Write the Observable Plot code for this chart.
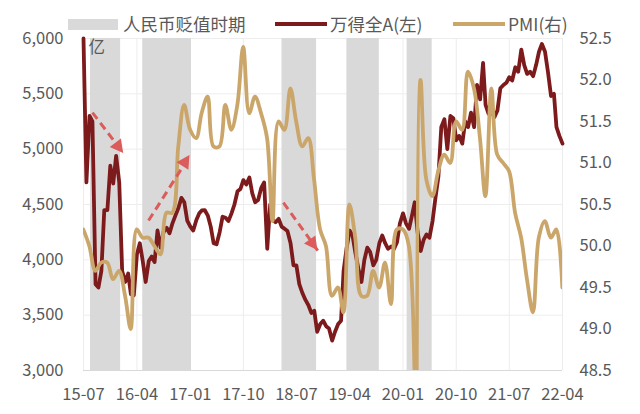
<!DOCTYPE html>
<html><head><meta charset="utf-8">
<script src="https://cdn.jsdelivr.net/npm/d3@7"></script>
<script src="https://cdn.jsdelivr.net/npm/@observablehq/plot@0.6"></script>
<style>
body{margin:0;background:#fff;font-family:"Noto Sans CJK SC","Noto Sans",sans-serif;}
#wrap{position:relative;width:640px;height:414px;overflow:hidden;background:#fff;}
.lg{position:absolute;color:#595959;font-size:17.5px;line-height:24px;top:12px;white-space:nowrap;}
.sw{position:absolute;}
#chart{position:absolute;left:0;top:30px;}
</style></head><body>
<div id="wrap">
  <div class="sw" style="left:68px;top:19px;width:50px;height:11px;background:#d9d9d9"></div>
  <div class="lg" style="left:123px">人民币贬值时期</div>
  <div class="sw" style="left:275px;top:22px;width:52px;height:4px;background:#7d1a1c"></div>
  <div class="lg" style="left:330px">万得全A(左)</div>
  <div class="sw" style="left:453px;top:22px;width:52px;height:4px;background:#cba66a"></div>
  <div class="lg" style="left:508px">PMI(右)</div>
  <div id="chart"></div>
</div>
<script>
// ---- data ----
const windStart = "2015-07"; // half-monthly observations from this month
const windValues = [
  6000,4700,5300,5250,3780,3750,3900,4450,4450,4850,
  4690,4940,4700,3900,3800,3876,3690,3680,4050,4150,
  3990,3800,3990,4030,3980,4265,4110,4250,4290,4240,
  4330,4400,4470,4560,4520,4355,4300,4265,4360,4420,
  4446,4450,4400,4300,4150,4140,4250,4390,4380,4350,
  4420,4500,4620,4640,4720,4680,4744,4600,4520,4540,
  4650,4700,4100,4500,4360,4340,4370,4300,4280,4260,
  4150,3950,3950,3780,3700,3640,3590,3520,3540,3350,
  3420,3450,3400,3380,3270,3350,3420,3450,3900,4100,
  4265,4220,4060,3920,3800,4000,4110,4070,3950,4000,
  4150,4220,4150,4100,4120,4100,4160,4330,4420,4330,
  4280,4400,4520,4250,4080,4180,4230,4200,4350,4560,
  4750,5200,5270,5000,5300,5280,5080,5120,5050,5250,
  5200,5330,5200,5580,5450,5780,5400,5320,5330,5290,
  5350,5550,5580,5600,5650,5620,5740,5700,5900,5760,
  5680,5700,5660,5760,5880,5950,5880,5700,5480,5500,
  5200,5120,5050
];
const pmiStart = "2015-06"; // monthly, plotted at month end
const pmiValues = [
  50.2,50.0,49.7,49.8,49.8,49.6,49.7,49.4,49.0,50.2,
  50.1,50.1,50.0,49.9,50.4,50.4,51.2,51.7,51.4,51.3,
  51.6,51.8,51.2,51.2,51.7,51.4,51.7,52.4,51.6,51.8,
  51.6,51.3,50.3,51.5,51.4,51.9,51.5,51.2,51.3,50.8,
  50.2,50.0,49.4,49.5,49.2,50.5,50.1,49.4,49.4,49.7,
  49.5,49.8,49.3,50.2,50.2,50.0,35.7,52.0,50.8,50.6,
  50.9,51.1,51.0,51.5,51.4,52.1,51.9,51.3,50.6,51.9,
  51.1,51.0,50.9,50.4,50.1,49.6,49.2,50.1,50.3,50.1,
  50.2,49.5
];
const bandStarts = ["2015-08-06","2016-05-01","2018-04-18","2019-03-18","2020-01-22"];
const bandEnds   = ["2016-01-08","2017-01-07","2018-10-13","2019-09-01","2020-05-30"];
const arrowStartDates  = ["2015-08-16","2016-05-31","2018-04-25"];
const arrowStartValues = [5331,4355,4518];
const arrowEndDates    = ["2016-01-24","2016-12-30","2018-10-19"];
const arrowEndValues   = [4960,4943,4084];
const xTickLabels = ["15-07","16-04","17-01","17-10","18-07","19-04","20-01","20-10","21-07","22-04"];
const leftTicks = [3000,3500,4000,4500,5000,5500,6000];
const rightTicks = [48.5,49.0,49.5,50.0,50.5,51.0,51.5,52.0,52.5];
const unitLabel = "亿";

// ---- styles ----
const RED = "#7d1a1c", GOLD = "#cba66a", BAND = "#d9d9d9", ARROW = "#dc5b5b", GRID = "#ededed", TXT = "#595959";
const FS = 16.5;

// ---- derived tables ----
const parseYM = d3.utcParse("%Y-%m");
const parseD = d3.utcParse("%Y-%m-%d");
const w0 = parseYM(windStart);
const wind = windValues.map((v, k) => ({
  date: d3.utcDay.offset(d3.utcMonth.offset(w0, Math.floor(k / 2)), k % 2 ? 15 : 0),
  value: v
}));
const p0 = parseYM(pmiStart);
const pmi = pmiValues.map((v, k) => ({date: d3.utcDay.offset(d3.utcMonth.offset(p0, k + 1), -1), pmi: v}));
const bands = bandStarts.map((s, i) => ({start: parseD(s), end: parseD(bandEnds[i])}));
const arrows = arrowStartDates.map((s, i) => ({
  x1: parseD(s), y1: arrowStartValues[i], x2: parseD(arrowEndDates[i]), y2: arrowEndValues[i]
}));
const xTicks = xTickLabels.map(d3.utcParse("%y-%m"));
const yMin = leftTicks[0], yMax = leftTicks[leftTicks.length - 1];
const rMin = rightTicks[0], rMax = rightTicks[rightTicks.length - 1];
const toLeft = p => yMin + (p - rMin) * (yMax - yMin) / (rMax - rMin);
const fromLeft = v => rMin + (v - yMin) * (rMax - rMin) / (yMax - yMin);

function arrowHeads(index, scales) {
  const g = d3.create("svg:g");
  for (const a of arrows) {
    const xs = scales.x(a.x1), ys = scales.y(a.y1), xe = scales.x(a.x2), ye = scales.y(a.y2);
    const dx = xe - xs, dy = ye - ys, len = Math.hypot(dx, dy), ux = dx / len, uy = dy / len;
    const L = 13, W = 7;
    const bx = xe - ux * L, by = ye - uy * L;
    g.append("polygon")
      .attr("points", `${xe},${ye} ${bx - uy * W},${by + ux * W} ${bx + uy * W},${by - ux * W}`)
      .attr("fill", ARROW);
  }
  return g.node();
}

const chart = Plot.plot({
  width: 640,
  height: 384,
  marginLeft: 83,
  marginRight: 78,
  marginTop: 8,
  marginBottom: 44,
  style: {fontFamily: '"Noto Sans CJK SC","Noto Sans",sans-serif', fontSize: FS + "px", color: TXT, background: "transparent", overflow: "visible"},
  x: {type: "utc", domain: [xTicks[0], xTicks[xTicks.length - 1]], axis: null},
  y: {domain: [yMin, yMax], axis: null},
  marks: [
    Plot.ruleY(leftTicks, {stroke: GRID}),
    Plot.ruleX(xTicks, {stroke: GRID}),
    Plot.rect(bands, {x1: "start", x2: "end", y1: yMin, y2: yMax, fill: BAND}),
    Plot.ruleY([yMin], {stroke: "#d9d9d9"}),
    Plot.line(wind, {x: "date", y: "value", stroke: RED, strokeWidth: 3.8, strokeLinejoin: "round"}),
    Plot.line(pmi, {x: "date", y: d => toLeft(d.pmi), stroke: GOLD, strokeWidth: 3.8, curve: "catmull-rom", clip: true}),
    Plot.link(arrows, {x1: "x1", y1: "y1", x2: "x2", y2: "y2", stroke: ARROW, strokeWidth: 3, strokeDasharray: "8,5"}),
    arrowHeads,
    Plot.axisX(xTicks, {tickSize: 0, tickPadding: 18, tickFormat: d3.utcFormat("%y-%m"), label: null, fill: TXT, fontSize: FS}),
    Plot.axisY(leftTicks, {anchor: "left", tickSize: 0, tickPadding: 20, tickFormat: d3.format(","), label: null, fill: TXT, fontSize: FS}),
    Plot.axisY(rightTicks.map(toLeft), {anchor: "right", tickSize: 0, tickPadding: 17, tickFormat: v => fromLeft(v).toFixed(1), label: null, fill: TXT, fontSize: FS}),
    Plot.text([unitLabel], {frameAnchor: "top-left", dx: 5, dy: 3, fill: TXT, fontSize: FS})
  ]
});
document.getElementById("chart").appendChild(chart);
</script>
</body></html>
